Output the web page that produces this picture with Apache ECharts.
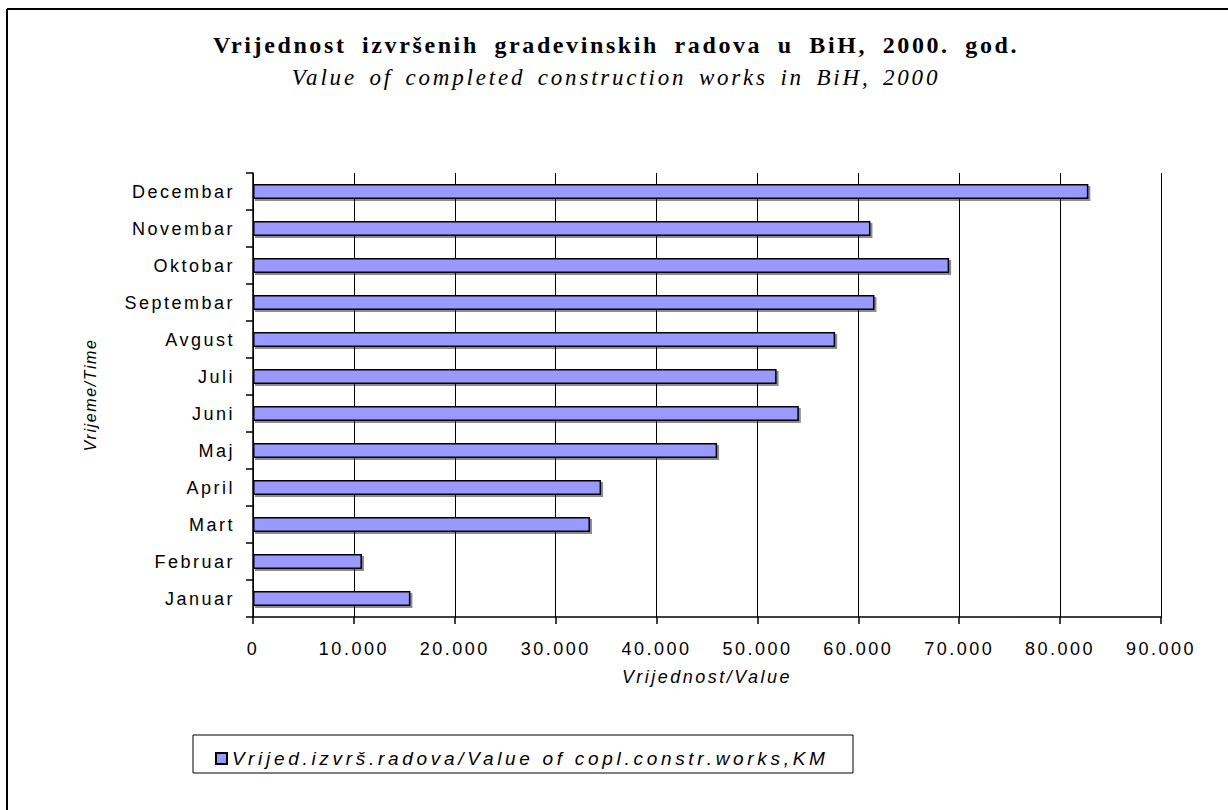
<!DOCTYPE html>
<html>
<head>
<meta charset="utf-8">
<script src="https://cdn.jsdelivr.net/npm/echarts@6/dist/echarts.min.js"></script>
<style>
    html, body { margin: 0; padding: 0; background: #fff; }
    #chart { width: 1228px; height: 810px; }
    /* razmak slova kao na originalu */
    #chart text[style*="24px"] { letter-spacing: 2.6px; word-spacing: 7px; }
    #chart text[style*="23px"] { letter-spacing: 2.8px; word-spacing: 4px; }
    #chart text[style*="18px"] { letter-spacing: 2.5px; }
    #chart text[style*="19px"] { letter-spacing: 3.7px; }
    #chart text[style*="16px"] { letter-spacing: 1.6px; }
</style>
</head>
<body>
<div id="chart"></div>
<script>
    var mjeseci = ['Januar', 'Februar', 'Mart', 'April', 'Maj', 'Juni', 'Juli', 'Avgust', 'Septembar', 'Oktobar', 'Novembar', 'Decembar'];
    var vrijednosti = [15600, 10800, 33400, 34500, 46000, 54100, 51900, 57700, 61600, 69000, 61200, 82800];
    var serijaNaziv = 'Vrijed.izvrš.radova/Value of copl.constr.works,KM';
    var naslov = 'Vrijednost izvršenih gradevinskih radova u BiH, 2000. god.';
    var podnaslov = 'Value of completed construction works in BiH, 2000';

    var myChart = echarts.init(document.getElementById('chart'), null, { renderer: 'svg' });

    var sans = '"Liberation Sans", Arial, sans-serif';
    var serif = '"Liberation Serif", "Times New Roman", serif';

    var option = {
        backgroundColor: '#fff',
        animation: false,
        graphic: [
            // naslov i podnaslov
            {
                type: 'text', x: 616, y: 45,
                style: {
                    text: naslov, align: 'center', verticalAlign: 'middle',
                    fontFamily: serif, fontSize: 24, fontWeight: 'bold', fill: '#000'
                }
            },
            {
                type: 'text', x: 616, y: 77,
                style: {
                    text: podnaslov, align: 'center', verticalAlign: 'middle',
                    fontFamily: serif, fontSize: 23, fontStyle: 'italic', fill: '#000'
                }
            },
            // okvir slike
            { type: 'line', shape: { x1: 7, y1: 9, x2: 1228, y2: 9 }, style: { stroke: '#000', lineWidth: 2 } },
            { type: 'line', shape: { x1: 7, y1: 9, x2: 7, y2: 810 }, style: { stroke: '#000', lineWidth: 2 } },
            // okvir legende
            { type: 'rect', shape: { x: 193, y: 735, width: 660, height: 38 }, style: { fill: 'none', stroke: '#000', lineWidth: 1 } }
        ],
        legend: {
            data: [serijaNaziv],
            left: 210,
            top: 744,
            icon: 'rect',
            itemWidth: 11,
            itemHeight: 11,
            itemGap: 8,
            textStyle: { fontFamily: sans, fontSize: 19, fontStyle: 'italic', color: '#000' }
        },
        grid: {
            left: 253,
            right: 67,
            top: 173,
            bottom: 193
        },
        xAxis: {
            type: 'value',
            min: 0,
            max: 90000,
            interval: 10000,
            name: 'Vrijednost/Value',
            nameLocation: 'middle',
            nameGap: 51,
            nameTextStyle: { fontFamily: sans, fontSize: 18, fontStyle: 'italic', color: '#000' },
            axisLine: { show: true, lineStyle: { color: '#000', width: 1.5 } },
            axisTick: { show: true, length: 7, lineStyle: { color: '#000', width: 1.5 } },
            axisLabel: {
                margin: 23,
                fontFamily: sans,
                fontSize: 18,
                color: '#000',
                hideOverlap: false,
                formatter: function (v) {
                    return v === 0 ? '0' : String(v).replace(/\B(?=(\d{3})+(?!\d))/g, '.');
                }
            },
            splitLine: { show: true, lineStyle: { color: '#000', width: 1 } }
        },
        yAxis: {
            type: 'category',
            data: mjeseci,
            name: 'Vrijeme/Time',
            nameLocation: 'middle',
            nameGap: 155,
            nameTextStyle: { fontFamily: sans, fontSize: 16, fontStyle: 'italic', color: '#000' },
            axisLine: { show: true, lineStyle: { color: '#000', width: 1.5 } },
            axisTick: { show: true, length: 7, lineStyle: { color: '#000', width: 1.5 } },
            axisLabel: {
                margin: 18,
                interval: 0,
                fontFamily: sans,
                fontSize: 18,
                color: '#000'
            },
            splitLine: { show: false }
        },
        series: [{
            name: serijaNaziv,
            type: 'bar',
            data: vrijednosti,
            barWidth: 15,
            itemStyle: {
                color: '#9999FF',
                borderColor: '#000',
                borderWidth: 1.5,
                shadowColor: 'rgba(0,0,0,0.45)',
                shadowBlur: 0,
                shadowOffsetX: 2,
                shadowOffsetY: 2
            }
        }]
    };

    myChart.setOption(option);
</script>
</body>
</html>
